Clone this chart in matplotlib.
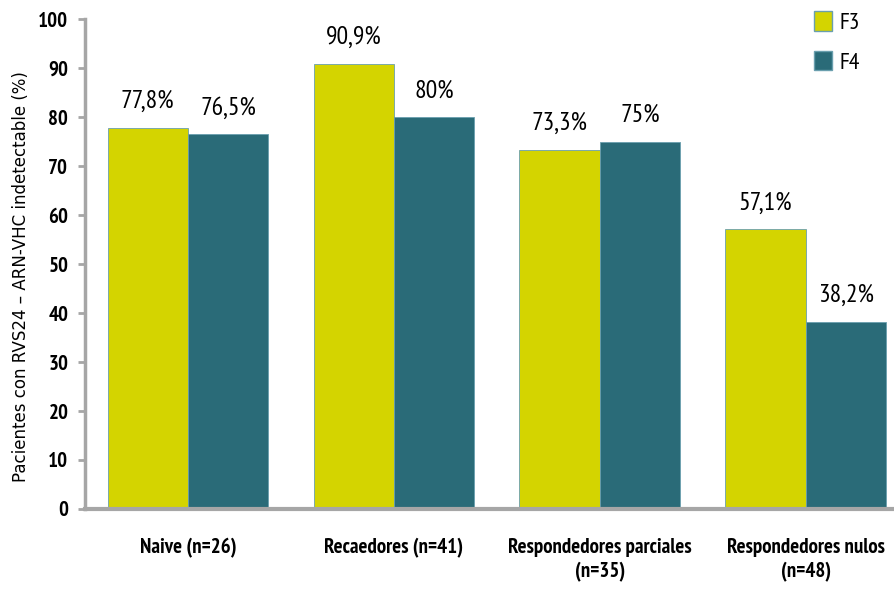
import numpy as np
import matplotlib
matplotlib.use("Agg")
import matplotlib.pyplot as plt
from matplotlib.patches import Patch

categorias = ["Naive (n=26)", "Recaedores (n=41)",
              "Respondedores parciales\n(n=35)", "Respondedores nulos\n(n=48)"]
f3 = [77.8, 90.9, 73.3, 57.1]
f4 = [76.5, 80.0, 75.0, 38.2]
etiquetas_f3 = ["77,8%", "90,9%", "73,3%", "57,1%"]
etiquetas_f4 = ["76,5%", "80%", "75%", "38,2%"]

amarillo = "#d4d400"
verde = "#2a6b78"
borde = "#6a9fae"
gris = "#a6a6a6"
fuente = ["PT Sans Narrow", "Roboto Condensed", "DejaVu Sans"]

fig = plt.figure(figsize=(8.94, 5.93), dpi=100)
ax = fig.add_axes([0.0951, 0.1417, 0.905, 0.826])

x = np.arange(len(categorias))
ancho = 0.39
ax.bar(x - ancho / 2, f3, ancho, color=amarillo, edgecolor=borde, linewidth=0.6)
ax.bar(x + ancho / 2, f4, ancho, color=verde, edgecolor=borde, linewidth=0.6)

# porcentajes encima de cada barra
for i in range(len(x)):
    ax.text(x[i] - ancho / 2, f3[i] + 3.0, etiquetas_f3[i], ha="center", va="bottom",
            fontsize=18.5, family=fuente)
    ax.text(x[i] + ancho / 2, f4[i] + 3.0, etiquetas_f4[i], ha="center", va="bottom",
            fontsize=18.5, family=fuente)

ax.set_xlim(-0.5, 3.43)
ax.set_ylim(0, 100)
ax.set_yticks(range(0, 101, 10))
ax.set_xticks(x)
ax.set_xticklabels(categorias, fontsize=15, fontweight="bold", family=fuente,
                   linespacing=1.3)
for lab in ax.get_yticklabels():
    lab.set_fontsize(15)
    lab.set_fontweight("bold")
    lab.set_family(fuente)
ax.tick_params(axis="x", length=0, pad=21)
ax.tick_params(axis="y", length=5, width=2, color=gris, pad=7)

for lado in ["top", "right"]:
    ax.spines[lado].set_visible(False)
ax.spines["left"].set_color(gris)
ax.spines["left"].set_linewidth(2.5)
ax.spines["bottom"].set_color(gris)
ax.spines["bottom"].set_linewidth(3)

ax.set_ylabel("Pacientes con RVS24 – ARN-VHC indetectable (%)", fontsize=12,
              family="DejaVu Sans")
ax.yaxis.set_label_coords(-0.068, 0.475)

leyenda = [Patch(facecolor=amarillo, edgecolor=borde, label="F3"),
           Patch(facecolor=verde, edgecolor=borde, label="F4")]
ax.legend(handles=leyenda, loc="upper right", bbox_to_anchor=(0.975, 1.045), frameon=False,
          handlelength=0.75, handleheight=0.9, handletextpad=0.3, labelspacing=0.7,
          borderaxespad=0.2, prop={"family": fuente, "size": 17})

fig.savefig("out.png", dpi=100)
